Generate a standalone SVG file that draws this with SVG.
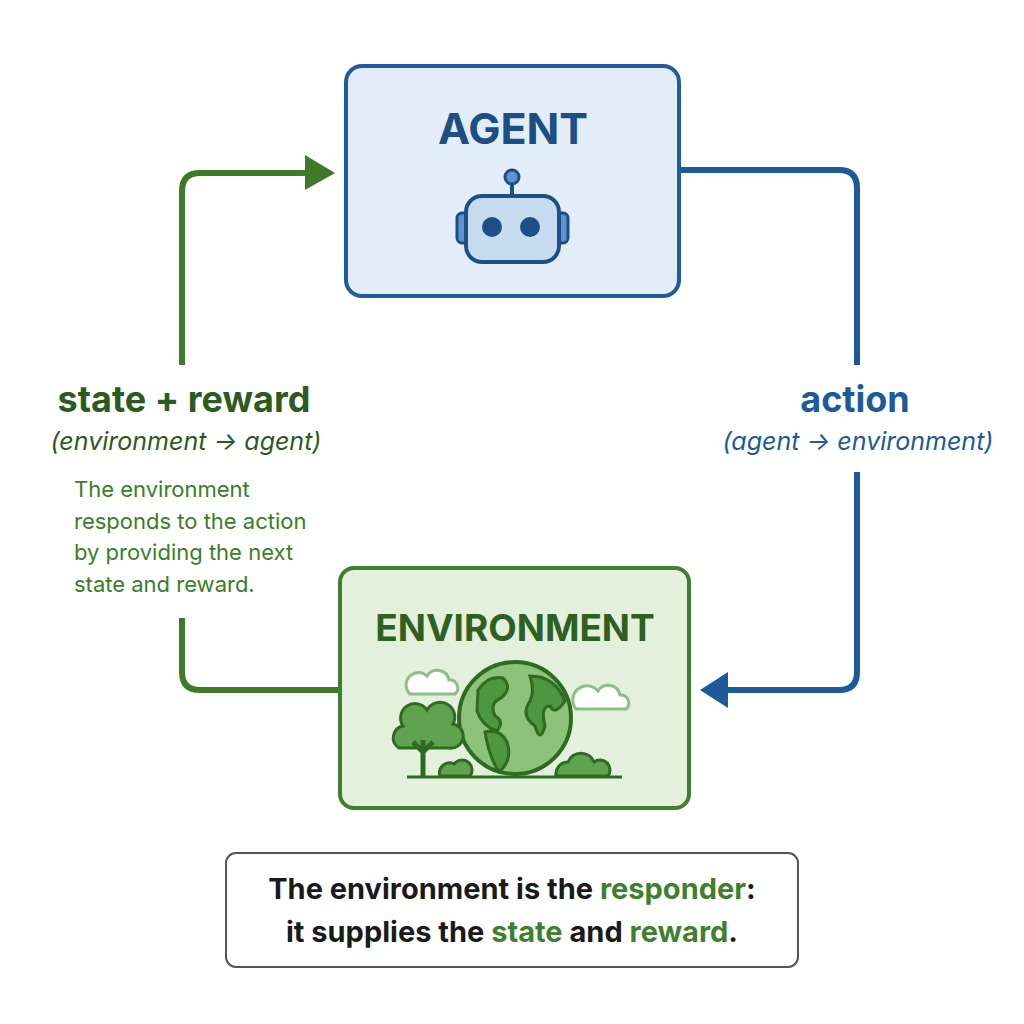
<svg xmlns="http://www.w3.org/2000/svg" width="1024" height="1024" viewBox="0 0 1024 1024">
<style>
text{font-family:Inter,"Liberation Sans",sans-serif}
.title{font-weight:700;text-anchor:middle}
.lab{font-weight:700;font-size:36px;text-anchor:middle}
.it{font-style:italic;font-size:25px;text-anchor:middle}
.p{font-size:22px;fill:#3b7d2a}
.conn{fill:none;stroke-width:6;stroke-linejoin:round}
</style>
<rect width="1024" height="1024" fill="#fff"/>
<g id="connectors">
<path class="conn" stroke="#3f7a2a" d="M340,690 H200 Q182,690 182,672 V618 M182,365 V191 Q182,173 200,173 H310"/>
<polygon points="305,155 335,173 305,190" fill="#3f7a2a"/>
<path class="conn" stroke="#1d5a9a" d="M679,170 H839 Q857,170 857,188 V365 M857,472 V672 Q857,690 839,690 H725"/>
<polygon points="728,672 700,690 728,708" fill="#1d5a9a"/>
</g>
<g id="agent">
<rect x="346" y="66" width="333" height="230" rx="16" fill="#e3edf8" stroke="#1f5c9c" stroke-width="4"/>
<text x="513" y="144" font-size="43" class="title" fill="#1d4f86">AGENT</text>
<line x1="512" y1="183" x2="512" y2="196" stroke="#1d4f86" stroke-width="4"/>
<circle cx="512" cy="177" r="7" fill="#5f95cc" stroke="#1d4f86" stroke-width="3"/>
<rect x="457" y="213" width="12" height="30" rx="5" fill="#5f95cc" stroke="#1d4f86" stroke-width="3"/>
<rect x="556" y="213" width="12" height="30" rx="5" fill="#5f95cc" stroke="#1d4f86" stroke-width="3"/>
<rect x="466" y="196" width="93" height="66" rx="16" fill="#c7dbf0" stroke="#1d4f86" stroke-width="4"/>
<circle cx="492" cy="227" r="10" fill="#1d4f86"/>
<circle cx="530" cy="227" r="10" fill="#1d4f86"/>
</g>
<g id="environment">
<rect x="340" y="568" width="349" height="240" rx="14" fill="#e2f0dc" stroke="#3f7f2f" stroke-width="4"/>
<text x="515" y="641" font-size="37" class="title" fill="#2f5f22">ENVIRONMENT</text>
<path d="M410,694 h45 a8,8 0 0 0 -6,-14 a12,12 0 0 0 -22,-4 a9,9 0 0 0 -17,18z" fill="#fff" stroke="#8fbc89" stroke-width="3"/>
<path d="M576,709 h50 a8,8 0 0 0 -6,-14 a12,12 0 0 0 -22,-4 a9,9 0 0 0 -22,18z" fill="#fff" stroke="#8fbc89" stroke-width="3"/>
<circle cx="515" cy="718" r="56" fill="#8cc27a" stroke="#2f6a22" stroke-width="4"/>
<path d="M478,690 q10,-15 25,-12 q10,10 -2,20 q-12,5 -6,18 q10,5 2,15 q-15,-5 -20,-20z M485,732 q15,-4 22,10 q6,18 -8,30 q-10,-15 -14,-40z M530,676 q25,0 35,25 q-10,15 -15,5 q-10,0 -5,20 q-5,18 -10,0 q-15,-10 -5,-25 q5,-10 0,-25z" fill="#4f9640" stroke="#2f6a22" stroke-width="3"/>
<path d="M399,748 a12,12 0 0 1 4,-22 a14,14 0 0 1 24,-16 a14,14 0 0 1 26,14 a12,12 0 0 1 -4,24z" fill="#5fa24f" stroke="#2f6a22" stroke-width="3"/>
<path d="M423,776 V740 M423,752 l-10,-10 M423,752 l10,-10" stroke="#2f6a22" stroke-width="5" fill="none"/>
<path d="M440,776 a10,10 0 0 1 14,-12 a10,10 0 0 1 16,12z" fill="#5fa24f" stroke="#2f6a22" stroke-width="3"/>
<path d="M556,776 a12,12 0 0 1 12,-14 a14,14 0 0 1 26,0 a10,10 0 0 1 14,14z" fill="#5fa24f" stroke="#2f6a22" stroke-width="3"/>
<line x1="407" y1="777" x2="622" y2="777" stroke="#2f6a22" stroke-width="3"/>
</g>
<g id="labels">
<text x="184" y="412" class="lab" fill="#2d5a1f">state + reward</text>
<text x="186" y="450" class="it" fill="#2d5a1f">(environment → agent)</text>
<text class="p"><tspan x="74" y="497">The environment</tspan><tspan x="74" y="529">responds to the action</tspan><tspan x="74" y="560">by providing the next</tspan><tspan x="74" y="592">state and reward.</tspan></text>
<text x="855" y="412" class="lab" font-size="37" fill="#1d5a9a">action</text>
<text x="858" y="450" class="it" fill="#1d5a9a">(agent → environment)</text>
</g>
<g id="note">
<rect x="226" y="853" width="572" height="114" rx="10" fill="#fff" stroke="#555" stroke-width="2"/>
<text x="512" y="899" text-anchor="middle" font-size="29" font-weight="700" fill="#1a1a1a">The environment is the <tspan fill="#3f7f2f">responder</tspan>:</text>
<text x="512" y="942" text-anchor="middle" font-size="29" font-weight="700" fill="#1a1a1a">it supplies the <tspan fill="#3f7f2f">state</tspan> and <tspan fill="#3f7f2f">reward</tspan>.</text>
</g>
</svg>
